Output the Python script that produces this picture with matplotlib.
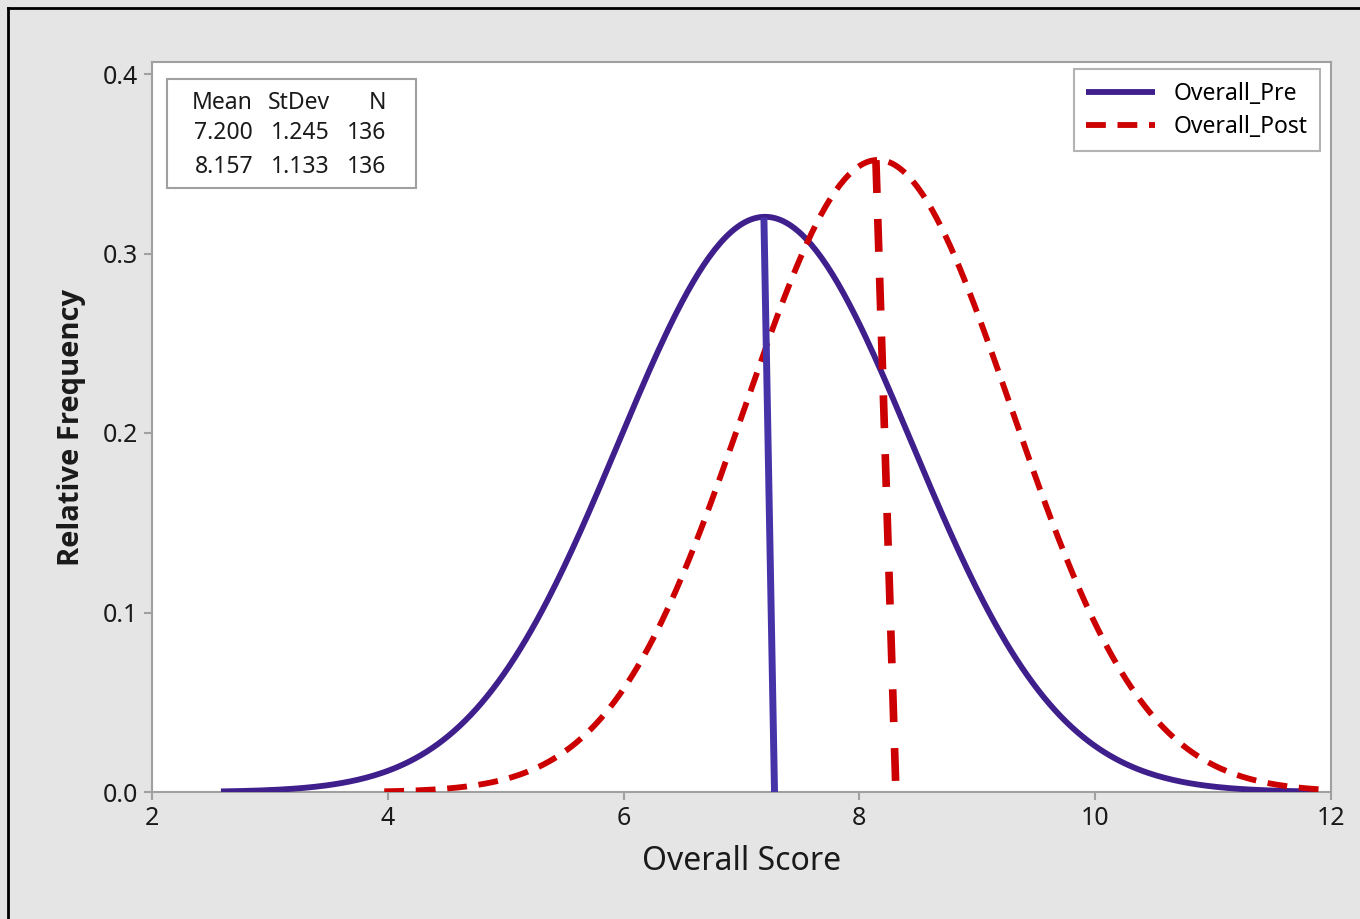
import numpy as np
import matplotlib.pyplot as plt
from matplotlib.lines import Line2D
from matplotlib.patches import Rectangle

plt.rcParams['font.family'] = ['Noto Sans', 'DejaVu Sans']

# summary statistics shown in the chart
series = ["Overall_Pre", "Overall_Post"]
means = [7.200, 8.157]
stdevs = [1.245, 1.133]
counts = [136, 136]

# x range each fitted curve covers
x_start = [2.585, 3.97]
x_end = [11.87, 11.92]

# mean marker lines (top -> bottom), slightly slanted in the original
pre_mark_x = [7.19, 7.28]
post_mark_x = [8.14, 8.31]
pre_mark_y = [0.320, 0.0]
post_mark_y = [0.352, 0.0]

bg = "#e5e5e5"
spine_c = "#a0a0a0"
pre_c = "#3f1f8c"
pre_mark_c = "#4733a8"
post_c = "#cc0000"
txt_c = "#1a1a1a"

fig = plt.figure(figsize=(13.6, 9.19), dpi=100, facecolor=bg)
ax = fig.add_axes([152/1360, 1 - 792/919, 1179/1360, 730/919])
ax.set_facecolor("white")

def normal_pdf(x, m, s):
    return np.exp(-0.5 * ((x - m) / s) ** 2) / (s * np.sqrt(2 * np.pi))

x_pre = np.linspace(x_start[0], x_end[0], 400)
x_post = np.linspace(x_start[1], x_end[1], 400)

ax.plot(x_pre, normal_pdf(x_pre, means[0], stdevs[0]), color=pre_c, lw=4.2,
        solid_capstyle="butt", label=series[0], zorder=3)
ax.plot(x_post, normal_pdf(x_post, means[1], stdevs[1]), color=post_c, lw=4.2,
        linestyle=(0, (3.4, 2.0)), dash_capstyle="butt", label=series[1], zorder=3)

ax.plot(pre_mark_x, pre_mark_y, color=pre_mark_c, lw=5, solid_capstyle="butt", zorder=4)
ax.plot(post_mark_x, post_mark_y, color=post_c, lw=5.5,
        linestyle=(0, (4.3, 3.4)), dash_capstyle="butt", zorder=4)

ax.set_xlim(2, 12)
ax.set_ylim(0, 0.4 + 12/1795)
ax.set_xticks([2, 4, 6, 8, 10, 12])
ax.set_yticks([0.0, 0.1, 0.2, 0.3, 0.4])
ax.set_yticklabels(["0.0", "0.1", "0.2", "0.3", "0.4"])
ax.tick_params(axis="both", direction="out", length=6, width=1.5, color=spine_c,
               labelsize=18, labelcolor=txt_c, pad=4)
for sp in ax.spines.values():
    sp.set_color(spine_c)
    sp.set_linewidth(1.5)

ax.set_xlabel("Overall Score", fontsize=23, color=txt_c, labelpad=10)
ax.set_ylabel("Relative Frequency", fontsize=21, fontweight="bold", color=txt_c,
              labelpad=12, family=["Open Sans", "DejaVu Sans"])

leg = ax.legend(loc="upper right", bbox_to_anchor=(0.9907, 0.9904), fontsize=16.5,
                frameon=True, fancybox=False, edgecolor=spine_c, handlelength=3.0,
                handletextpad=0.8, borderpad=0.55, labelspacing=0.4, borderaxespad=0)
leg.get_frame().set_linewidth(1.5)

# stats table
ax.add_patch(Rectangle((0.0127, 0.8274), 0.2112, 0.1493, transform=ax.transAxes,
                       facecolor="white", edgecolor=spine_c, lw=1.5, zorder=5))
col_x = [0.0857, 0.151, 0.1985]
row_y = [0.9438, 0.9027, 0.8562]
header = ["Mean", "StDev", "N"]
for cx, h in zip(col_x, header):
    ax.text(cx, row_y[0], h, transform=ax.transAxes, ha="right", va="center",
            fontsize=16.5, color=txt_c, zorder=6)
for r in range(2):
    vals = [f"{means[r]:.3f}", f"{stdevs[r]:.3f}", f"{counts[r]}"]
    for cx, v in zip(col_x, vals):
        ax.text(cx, row_y[r + 1], v, transform=ax.transAxes, ha="right", va="center",
                fontsize=16.5, color=txt_c, zorder=6)

# outer frame edges of the original window
fig.add_artist(Line2D([8/1360, 1], [1 - 8/919, 1 - 8/919], color="black", lw=2))
fig.add_artist(Line2D([8/1360, 8/1360], [0, 1 - 8/919], color="black", lw=2))

fig.savefig("out.png", dpi=100, facecolor=bg)
